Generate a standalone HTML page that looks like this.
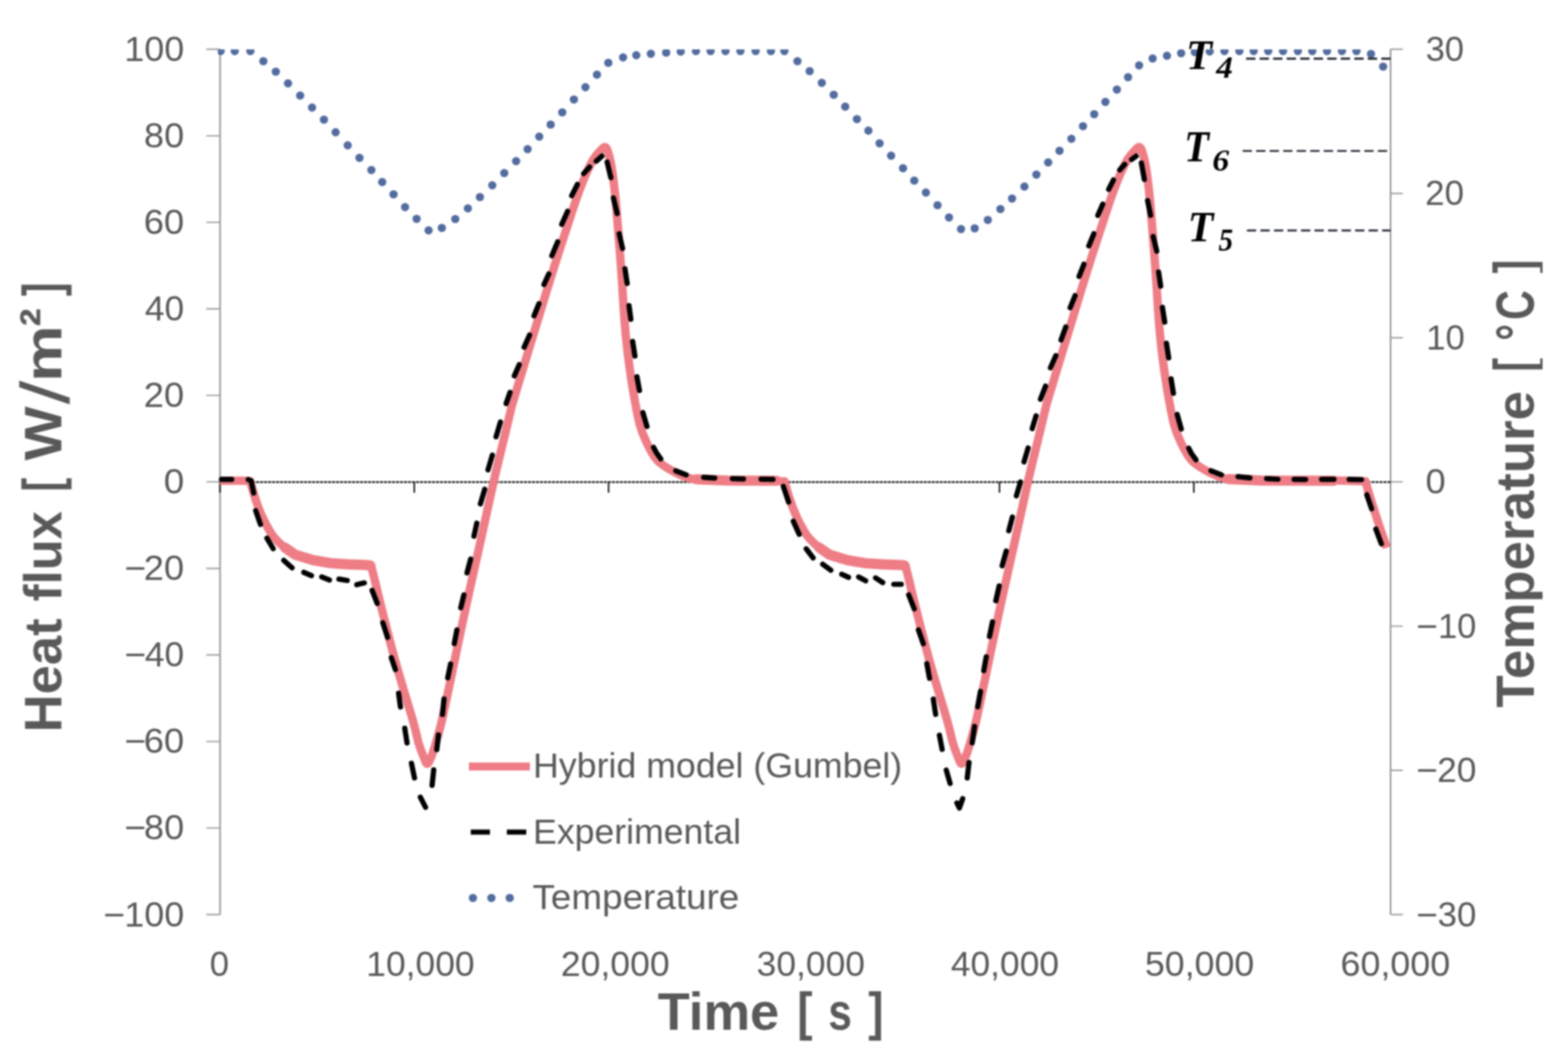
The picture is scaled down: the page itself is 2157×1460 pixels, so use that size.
<!DOCTYPE html>
<html lang="en"><head><meta charset="utf-8"><title>Heat flux and temperature versus time</title>
<style>
html,body{margin:0;padding:0;background:#fff;}
body{width:2157px;height:1460px;overflow:hidden;}
svg{display:block;}
text{font-family:"Liberation Sans",sans-serif;fill:#595959;white-space:pre;}
.tk{font-weight:normal;}
.ttl{font-weight:bold;fill:#595959;}
.math{font-family:"Liberation Serif",serif;font-weight:bold;font-style:italic;fill:#000;}
</style></head><body>
<svg width="2157" height="1460" viewBox="0 0 2157 1460">
<defs>
<clipPath id="plot"><rect x="299.7" y="68.1" width="1613.2" height="1192.4"/></clipPath>
<clipPath id="cb"><rect x="0" y="0" width="2157" height="1431.5"/></clipPath>
<clipPath id="cr"><rect x="0" y="0" width="2121.6" height="1460"/></clipPath>
<filter id="soft" filterUnits="userSpaceOnUse" x="0" y="0" width="2157" height="1460" color-interpolation-filters="sRGB"><feGaussianBlur stdDeviation="1"/></filter>
</defs>
<rect width="2157" height="1460" fill="#fff"/>
<g filter="url(#soft)">
<g fill="none" stroke="#8c8c8c" stroke-width="2.0">
<path d="M302.7 67.8V1258.5"/>
<path d="M1912.9 67.8V1258.5"/>
<path d="M283.7 67.8H302.7M283.7 186.9H302.7M283.7 305.9H302.7M283.7 425H302.7M283.7 544.1H302.7M283.7 663.1H302.7M283.7 782.2H302.7M283.7 901.3H302.7M283.7 1020.4H302.7M283.7 1139.4H302.7M283.7 1258.5H302.7M1912.9 67.8H1929.9M1912.9 266.2H1929.9M1912.9 464.7H1929.9M1912.9 663.1H1929.9M1912.9 861.6H1929.9M1912.9 1060H1929.9M1912.9 1258.5H1929.9" stroke="#9c9c9c" stroke-width="1.9"/>
</g>
<g fill="none" stroke="#0a0a0a">
<path d="M302.7 663.4H1912.9" stroke-width="2.1" stroke-dasharray="4.2 1.3"/>
<path d="M302.6 663.4V677.9M569.9 663.4V677.9M837.2 663.4V677.9M1374.9 663.4V677.9M1642.3 663.4V677.9" stroke-width="2.0"/>
</g>
<g clip-path="url(#plot)" fill="none">
<path d="M302.6 661.5C308.5 661.5 331.1 661.4 338 661.5C344.9 661.6 343.2 662.2 344.3 662.4C344.9 664.6 346.7 671 348 675.5C349.3 680 350.8 684.9 352.3 689.3C353.8 693.7 355.4 697.9 357 702C358.6 706.1 360.2 709.8 362.2 714C364.2 718.2 366.6 722.9 369 727C371.4 731.1 373.1 734.6 376.4 738.6C379.7 742.6 383.8 746.9 388.7 751C393.6 755.1 399 760 406 763.3C413 766.6 422.4 768.8 430.6 770.7C438.8 772.7 447.1 774 455.3 775C463.5 776 471.8 776.2 480 776.6C488.2 777 499.5 777.1 504.6 777.5C509.7 777.9 509.6 778.6 510.6 778.8C511.2 781.3 512 784 514.5 794C517 804 520.3 818.8 525.3 838.6C530.3 858.4 537.5 887 544.6 912.6C551.7 938.2 562.9 973.8 568.1 992C573.3 1010.2 573.3 1013.8 575.7 1022C578.1 1030.2 580.5 1036.2 582.5 1041C584.5 1045.8 585.9 1051 587.7 1051C589.5 1051 591.5 1045.8 593.5 1041C595.5 1036.2 597.3 1030.2 599.7 1022C602.1 1013.8 604.6 1005.7 607.8 992C611 978.3 613.5 965.6 618.9 940C624.3 914.4 633 871.9 640.2 838.6C647.4 805.3 655.7 769.2 662.1 740C668.5 710.8 673.9 685.4 678.9 663.6C683.9 641.8 687.7 626.8 692 609C696.3 591.2 702.4 565.7 704.5 557C706.4 550.8 709.7 539.5 715.6 520C721.5 500.5 732.9 463.3 740 440C747.1 416.7 751.7 401.1 758.3 380C764.9 358.9 773.4 332.6 779.8 313.3C786.1 294 791 278.4 796.4 264C801.8 249.6 807.2 236.2 811.9 227C816.6 217.8 821.1 212.4 824.8 208.5C828.5 204.6 831.3 200.5 834 203.6C836.7 206.7 838.8 216.9 840.8 227C842.8 237.1 844.2 249.6 845.8 264C847.3 278.4 848.6 294.8 850.1 313.3C851.6 331.8 853.3 353.9 854.8 375C856.3 396.1 857.7 422.5 859 440C860.3 457.5 861.3 466.7 862.8 480C864.3 493.3 866.5 508.8 868.1 520C869.7 531.2 870.5 536.3 872.5 547C874.5 557.7 877.2 573.7 880 584C882.8 594.3 885.3 600.4 889.3 608.6C893.3 616.8 897.9 626.6 904.1 633.3C910.3 640 918.5 644.5 926.3 648.7C934.1 652.9 940.7 656.6 951 658.6C961.3 660.6 973.2 660.5 988 661C1002.8 661.5 1024.8 661.3 1040 661.5C1055.2 661.7 1072.8 662.2 1079.3 662.4C1079.9 664.6 1081.7 671 1083 675.5C1084.3 680 1085.8 684.9 1087.3 689.3C1088.8 693.7 1090.3 697.9 1092 702C1093.7 706.1 1095.2 709.8 1097.2 714C1099.2 718.2 1101.6 722.9 1104 727C1106.4 731.1 1108.1 734.6 1111.4 738.6C1114.7 742.6 1118.8 746.9 1123.7 751C1128.6 755.1 1134 760 1141 763.3C1148 766.6 1157.4 768.8 1165.6 770.7C1173.8 772.7 1182.1 774 1190.3 775C1198.5 776 1206.8 776.2 1215 776.6C1223.2 777 1234.5 777.1 1239.6 777.5C1244.7 777.9 1244.6 778.6 1245.6 778.8C1246.2 781.3 1247 784 1249.5 794C1252 804 1255.3 818.8 1260.3 838.6C1265.3 858.4 1272.5 887 1279.6 912.6C1286.7 938.2 1297.9 973.8 1303.1 992C1308.3 1010.2 1308.3 1013.8 1310.7 1022C1313.1 1030.2 1315.5 1036.2 1317.5 1041C1319.5 1045.8 1320.9 1051 1322.7 1051C1324.5 1051 1326.5 1045.8 1328.5 1041C1330.5 1036.2 1332.3 1030.2 1334.7 1022C1337.1 1013.8 1339.6 1005.7 1342.8 992C1346 978.3 1348.5 965.6 1353.9 940C1359.3 914.4 1368 871.9 1375.2 838.6C1382.4 805.3 1390.6 769.2 1397.1 740C1403.5 710.8 1408.9 685.4 1413.9 663.6C1418.9 641.8 1422.7 626.8 1427 609C1431.3 591.2 1437.4 565.7 1439.5 557C1441.3 550.8 1444.7 539.5 1450.6 520C1456.5 500.5 1467.9 463.3 1475 440C1482.1 416.7 1486.7 401.1 1493.3 380C1499.9 358.9 1508.4 332.6 1514.8 313.3C1521.2 294 1526.1 278.4 1531.4 264C1536.8 249.6 1542.2 236.2 1546.9 227C1551.6 217.8 1556.1 212.4 1559.8 208.5C1563.5 204.6 1566.3 200.5 1569 203.6C1571.7 206.7 1573.8 216.9 1575.8 227C1577.8 237.1 1579.2 249.6 1580.8 264C1582.3 278.4 1583.6 294.8 1585.1 313.3C1586.6 331.8 1588.3 353.9 1589.8 375C1591.3 396.1 1592.7 422.5 1594 440C1595.3 457.5 1596.3 466.7 1597.8 480C1599.3 493.3 1601.5 508.8 1603.1 520C1604.7 531.2 1605.5 536.3 1607.5 547C1609.5 557.7 1612.2 573.7 1615 584C1617.8 594.3 1620.3 600.4 1624.3 608.6C1628.3 616.8 1632.9 626.6 1639.1 633.3C1645.3 640 1653.5 644.5 1661.3 648.7C1669.1 652.9 1675.7 656.6 1686 658.6C1696.3 660.6 1708.5 660.5 1723 661C1737.5 661.5 1753.5 661.2 1773 661.3C1792.5 661.3 1822.4 661.1 1840 661.3C1857.6 661.4 1872 662.1 1878.4 662.2C1879.3 665.4 1881.4 673.2 1884 681.6C1886.6 690 1890.5 702.1 1893.8 712.4C1897.1 722.7 1901.8 736.4 1904.1 743.3C1906.4 750.2 1907 752 1907.6 753.8" stroke="#ee7d86" stroke-width="11.5" stroke-linejoin="round"/>
<path d="M392.0 753.5L406.0 763.3L430.6 770.7L455.3 775.0L480.0 776.6L504.6 777.5L509.5 778.3M1127.0 753.5L1141.0 763.3L1165.6 770.7L1190.3 775.0L1215.0 776.6L1239.6 777.5L1244.5 778.3" stroke="#ee7d86" stroke-width="14.2" stroke-linejoin="round" stroke-linecap="round"/><path d="M958 659.6L1000 661.3L1068 661.5M1690 659.2L1735 661.2L1835 661.4" stroke="#ee7d86" stroke-width="14" stroke-linecap="round"/>
<path d="M304.7 659.7L318.7 659.7M341.5 659.9L345.5 661.5L348.9 678.4M351.7 702.6L358.3 721.6M367.2 740.6L375.8 755M390.4 771.1L401.8 781.4M417.9 787.6L428.5 792.1M442.6 793.9L453.2 798.1M466.3 796.9L477.7 798.7M490.8 804.6L501.2 802.1M511.9 812.4L518.9 830.4M526.6 856.9L533.2 877.1M538.3 905L543.9 921.3M548.3 954L550.9 972.8M556.8 1002.1L559.9 1022.3M566 1050.3L570.2 1070.4M578.2 1096.9L585.4 1110.9M594.4 1080.7L596.6 1059.3M600.9 1031.4L603.1 1011.3M608.7 983.2L610.8 961.8M615.9 932.7L619.8 913.7M624.9 885.7L628.5 866.8M633.8 836.4L638.1 818.6M642.4 788.4L647.4 769.3M652 737.8L655.9 720M660.8 693.4L666.8 673.2M671.3 646.6L677.3 626.3M682.4 601L688.4 580.7M696.2 555.4L701.6 540M707.5 517.2L714.3 501.7M721 477.8L728.5 461M734.6 434.6L741.4 417.9M748.3 391.5L754.9 377.1M759.1 351.9L767.2 332.7M772.7 308.7L780.8 290.7M786.4 269.3L794.2 253.8M802.9 238.9L811 229.9M820.3 221.8L828 214.9M835.2 223L840.3 244.5M843.8 272.3L849 293.8M851.8 321.7L856.4 341.9M859.7 369.8L862.8 390M865.3 420.5L867.8 439.3M870.3 469.8L873.4 489.9M876.2 518.5L879.7 537.3M884.4 567.7L890 586.7M899.1 615.6L903 623L909 631.4M929.6 647.8L943.9 653.4M968.1 656.9L983.2 657.8M1007.5 658.7L1022.7 659.1M1047 659.3L1063.3 659.7M1077.6 669.3L1084.8 690.8M1091.3 717.3L1099.4 735.3M1109.1 755.2L1118.6 767.7M1131.7 776.4L1142.9 784.7M1157.9 790.2L1167.2 794.4M1181.2 794L1190.8 799.2M1204.5 795.3L1214.3 801.6M1229.6 804L1239.8 804M1250 818.5L1257.6 837.8M1263.4 866.7L1270.1 885.8M1275 913.3L1278.7 933.3M1283.9 962L1287.1 983M1292.3 1011.7L1296 1031.2M1301.7 1059.8L1307 1078M1316.3 1104.9L1319.8 1111.9L1324.3 1099M1330.6 1070.4L1333 1049.4M1337.4 1022.2L1340.6 999.7M1345 972.5L1348.8 951.5M1353.3 922.8L1356.7 903.8M1361.2 875.8L1365.3 855.7M1369.9 826.6L1374.5 806.3M1378.6 778.5L1384.2 758.2M1387.7 730.4L1392.7 711.4M1398.2 682.3L1403.8 663.3M1408.7 635.5L1414.3 616.5M1419.9 589.9L1425.3 572.1M1431.3 549.3L1438.3 531.3M1445 506.1L1452.4 489.4M1459.6 467.8L1466.1 450M1472.1 423.5L1478.9 406.8M1484.4 380.4L1491.1 363.5M1497.8 338.3L1504.7 321.6M1510.2 296.4L1517 280.9M1525.1 260.6L1531.7 247.6M1540.3 233.9L1547.2 226.2M1556.7 219.4L1562.9 214.8M1570.1 224.4L1574.2 246.9M1578.7 276.1L1582.8 296.2M1586.3 325.4L1591.3 345.6M1593.8 374.3L1596.7 393.7M1599.1 423L1602.2 443.1M1604.6 472.3L1607.7 492.4M1611 521.3L1614.2 541.2M1619.4 570.2L1625 590.4M1635.3 616.8L1639 624L1645.2 632.6M1665.9 647.8L1680.2 653.4M1703.1 655.8L1719.4 657.7M1742.5 658.7L1757.9 659.5M1780.3 659.6L1796 659.8M1818 659.6L1835 659.6M1856 659.6L1873 660M1880.2 680.8L1886.8 700M1892.6 728L1900.2 748.3" stroke="#000" stroke-width="7.2" stroke-linejoin="round" stroke-linecap="round"/>
</g>
<g clip-path="url(#plot)" fill="#536c9f">
<circle cx="303.5" cy="70.3" r="5.7"/>
<circle cx="322.9" cy="70.3" r="5.7"/>
<circle cx="344.4" cy="70.3" r="5.7"/>
<circle cx="362.3" cy="84.2" r="5.7"/>
<circle cx="379.4" cy="98.6" r="5.7"/>
<circle cx="396.2" cy="114.8" r="5.7"/>
<circle cx="412.9" cy="131.5" r="5.7"/>
<circle cx="429.3" cy="148" r="5.7"/>
<circle cx="445.6" cy="164.6" r="5.7"/>
<circle cx="461.7" cy="182" r="5.7"/>
<circle cx="478.3" cy="200" r="5.7"/>
<circle cx="494.5" cy="217.2" r="5.7"/>
<circle cx="510.9" cy="234" r="5.7"/>
<circle cx="525.8" cy="250.5" r="5.7"/>
<circle cx="541.4" cy="267.4" r="5.7"/>
<circle cx="557.2" cy="285" r="5.7"/>
<circle cx="573.1" cy="301.1" r="5.7"/>
<circle cx="589.6" cy="317" r="5.7"/>
<circle cx="607.8" cy="313.6" r="5.7"/>
<circle cx="626.3" cy="301.4" r="5.7"/>
<circle cx="643.6" cy="286.8" r="5.7"/>
<circle cx="660.2" cy="271.3" r="5.7"/>
<circle cx="677.2" cy="255" r="5.7"/>
<circle cx="693.7" cy="238.1" r="5.7"/>
<circle cx="710" cy="221.8" r="5.7"/>
<circle cx="725.8" cy="205.3" r="5.7"/>
<circle cx="741.8" cy="188" r="5.7"/>
<circle cx="757.5" cy="171.4" r="5.7"/>
<circle cx="773.5" cy="154.6" r="5.7"/>
<circle cx="789.5" cy="136.9" r="5.7"/>
<circle cx="805.3" cy="120" r="5.7"/>
<circle cx="821.2" cy="102.7" r="5.7"/>
<circle cx="836.8" cy="86.4" r="5.7"/>
<circle cx="857.1" cy="79" r="5.7"/>
<circle cx="875.3" cy="76" r="5.7"/>
<circle cx="895.3" cy="74" r="5.7"/>
<circle cx="916.4" cy="72.4" r="5.7"/>
<circle cx="936.4" cy="71" r="5.7"/>
<circle cx="957.4" cy="70.3" r="5.7"/>
<circle cx="977.5" cy="70.3" r="5.7"/>
<circle cx="998" cy="70.3" r="5.7"/>
<circle cx="1018.5" cy="70.3" r="5.7"/>
<circle cx="1039.5" cy="70.3" r="5.7"/>
<circle cx="1060.5" cy="70.3" r="5.7"/>
<circle cx="1079" cy="70.3" r="5.7"/>
<circle cx="1097" cy="84.2" r="5.7"/>
<circle cx="1113.8" cy="97.9" r="5.7"/>
<circle cx="1130.5" cy="114" r="5.7"/>
<circle cx="1146.9" cy="130.4" r="5.7"/>
<circle cx="1162.7" cy="146.8" r="5.7"/>
<circle cx="1178.8" cy="163.9" r="5.7"/>
<circle cx="1194.6" cy="179.7" r="5.7"/>
<circle cx="1210" cy="197.2" r="5.7"/>
<circle cx="1225.8" cy="214.2" r="5.7"/>
<circle cx="1242.2" cy="231.5" r="5.7"/>
<circle cx="1257.7" cy="248.5" r="5.7"/>
<circle cx="1273.7" cy="265" r="5.7"/>
<circle cx="1289.7" cy="282.4" r="5.7"/>
<circle cx="1305.5" cy="299.3" r="5.7"/>
<circle cx="1322" cy="315.3" r="5.7"/>
<circle cx="1340.8" cy="314.3" r="5.7"/>
<circle cx="1358.9" cy="302.6" r="5.7"/>
<circle cx="1376.2" cy="287.6" r="5.7"/>
<circle cx="1392.2" cy="273.2" r="5.7"/>
<circle cx="1409.2" cy="256.8" r="5.7"/>
<circle cx="1425.7" cy="240.3" r="5.7"/>
<circle cx="1441.9" cy="223.5" r="5.7"/>
<circle cx="1457.5" cy="207.5" r="5.7"/>
<circle cx="1473.8" cy="191" r="5.7"/>
<circle cx="1489.8" cy="173.6" r="5.7"/>
<circle cx="1505.2" cy="157.1" r="5.7"/>
<circle cx="1520.6" cy="140.3" r="5.7"/>
<circle cx="1536.4" cy="123.2" r="5.7"/>
<circle cx="1551.8" cy="106.2" r="5.7"/>
<circle cx="1567" cy="90" r="5.7"/>
<circle cx="1585.6" cy="80.5" r="5.7"/>
<circle cx="1605.3" cy="76.8" r="5.7"/>
<circle cx="1624.8" cy="73.2" r="5.7"/>
<circle cx="1643.6" cy="71.7" r="5.7"/>
<circle cx="1664.1" cy="70.8" r="5.7"/>
<circle cx="1684.4" cy="70.3" r="5.7"/>
<circle cx="1704.9" cy="70.3" r="5.7"/>
<circle cx="1724.6" cy="70.3" r="5.7"/>
<circle cx="1744.6" cy="70.3" r="5.7"/>
<circle cx="1765" cy="70.3" r="5.7"/>
<circle cx="1785.4" cy="70.3" r="5.7"/>
<circle cx="1805.2" cy="70.3" r="5.7"/>
<circle cx="1825.5" cy="70.3" r="5.7"/>
<circle cx="1846" cy="70.3" r="5.7"/>
<circle cx="1866" cy="70.3" r="5.7"/>
<circle cx="1886" cy="74.2" r="5.7"/>
<circle cx="1902.7" cy="91.6" r="5.7"/>
</g>
<text class="math" xml:space="preserve" font-size="57.5" y="94.6"><tspan x="1631.6" y="94.6" textLength="35.8" lengthAdjust="spacingAndGlyphs">T</tspan><tspan x="1673" font-size="42.5" y="107.2" textLength="23" lengthAdjust="spacingAndGlyphs">4</tspan></text>
<text class="math" xml:space="preserve" font-size="61" y="222.4"><tspan x="1628.9" y="222.4" textLength="34.1" lengthAdjust="spacingAndGlyphs">T</tspan><tspan x="1667.7" font-size="43" y="234.6" textLength="23.2" lengthAdjust="spacingAndGlyphs">6</tspan></text>
<text class="math" xml:space="preserve" font-size="60" y="331.6"><tspan x="1633.9" y="331.6" textLength="35.1" lengthAdjust="spacingAndGlyphs">T</tspan><tspan x="1676.2" font-size="44.5" y="344.6" textLength="20.1" lengthAdjust="spacingAndGlyphs">5</tspan></text>
<g fill="none" stroke="#242a33" stroke-dasharray="12.8 5.8">
<path d="M1714.2 80.7H1913" stroke-width="3.0"/>
<path d="M1709.4 207.7H1909" stroke-width="2.6"/>
<path d="M1715.3 317.1H1913" stroke-width="2.6"/>
</g>
<path d="M645 1054.8H729" stroke="#ee7d86" stroke-width="11" fill="none"/>
<path d="M647.6 1145H674M697.3 1145H723.9" stroke="#000" stroke-width="7.0" fill="none"/>
<g fill="#536c9f">
<circle cx="650.6" cy="1235.6" r="5.7"/>
<circle cx="676" cy="1235.6" r="5.7"/>
<circle cx="701.2" cy="1235.6" r="5.7"/>
</g>
<text class="tk" xml:space="preserve" font-size="48" y="1070.4"><tspan x="733.3" textLength="507.8" lengthAdjust="spacingAndGlyphs">Hybrid model (Gumbel)</tspan></text>
<text class="tk" xml:space="preserve" font-size="48" y="1160.6"><tspan x="733.3" textLength="286" lengthAdjust="spacingAndGlyphs">Experimental</tspan></text>
<text class="tk" xml:space="preserve" font-size="48" y="1251.4"><tspan x="732.5" textLength="284.5" lengthAdjust="spacingAndGlyphs">Temperature</tspan></text>
<text class="tk" xml:space="preserve" font-size="48" y="83.8"><tspan x="171.1" textLength="82.2" lengthAdjust="spacingAndGlyphs">100</tspan></text>
<text class="tk" xml:space="preserve" font-size="48" y="202.9"><tspan x="198.1" textLength="55.2" lengthAdjust="spacingAndGlyphs">80</tspan></text>
<text class="tk" xml:space="preserve" font-size="48" y="321.9"><tspan x="197.8" textLength="55.6" lengthAdjust="spacingAndGlyphs">60</tspan></text>
<text class="tk" xml:space="preserve" font-size="48" y="441"><tspan x="199.2" textLength="54.1" lengthAdjust="spacingAndGlyphs">40</tspan></text>
<text class="tk" xml:space="preserve" font-size="48" y="560.1"><tspan x="197.8" textLength="55.6" lengthAdjust="spacingAndGlyphs">20</tspan></text>
<text class="tk" xml:space="preserve" font-size="48" y="679.1"><tspan x="225.2" textLength="28.2" lengthAdjust="spacingAndGlyphs">0</tspan></text>
<text class="tk" xml:space="preserve" font-size="48" y="798.2"><tspan x="170.9" y="798.2" textLength="29.8" lengthAdjust="spacingAndGlyphs">−</tspan><tspan x="197.8" y="798.2" textLength="55.6" lengthAdjust="spacingAndGlyphs">20</tspan></text>
<text class="tk" xml:space="preserve" font-size="48" y="917.3"><tspan x="170.9" y="917.3" textLength="29.8" lengthAdjust="spacingAndGlyphs">−</tspan><tspan x="199.2" y="917.3" textLength="54.1" lengthAdjust="spacingAndGlyphs">40</tspan></text>
<text class="tk" xml:space="preserve" font-size="48" y="1036.4"><tspan x="170.9" y="1036.4" textLength="29.8" lengthAdjust="spacingAndGlyphs">−</tspan><tspan x="197.8" y="1036.4" textLength="55.6" lengthAdjust="spacingAndGlyphs">60</tspan></text>
<text class="tk" xml:space="preserve" font-size="48" y="1155.4"><tspan x="170.9" y="1155.4" textLength="29.8" lengthAdjust="spacingAndGlyphs">−</tspan><tspan x="198.1" y="1155.4" textLength="55.2" lengthAdjust="spacingAndGlyphs">80</tspan></text>
<text class="tk" xml:space="preserve" font-size="48" y="1274.5"><tspan x="141.9" y="1274.5" textLength="29.8" lengthAdjust="spacingAndGlyphs">−</tspan><tspan x="171.1" y="1274.5" textLength="82.2" lengthAdjust="spacingAndGlyphs">100</tspan></text>
<text class="tk" xml:space="preserve" font-size="48" y="83.8"><tspan x="1961.2" textLength="52.7" lengthAdjust="spacingAndGlyphs">30</tspan></text>
<text class="tk" xml:space="preserve" font-size="48" y="282.2"><tspan x="1960.6" textLength="53.3" lengthAdjust="spacingAndGlyphs">20</tspan></text>
<text class="tk" xml:space="preserve" font-size="48" y="480.7"><tspan x="1962" textLength="53.1" lengthAdjust="spacingAndGlyphs">10</tspan></text>
<text class="tk" xml:space="preserve" font-size="48" y="679.1"><tspan x="1961.1" textLength="27.7" lengthAdjust="spacingAndGlyphs">0</tspan></text>
<text class="tk" xml:space="preserve" font-size="48" y="877.6"><tspan x="1948" y="877.6" textLength="29.8" lengthAdjust="spacingAndGlyphs">−</tspan><tspan x="1978.2" y="877.6" textLength="52.7" lengthAdjust="spacingAndGlyphs">10</tspan></text>
<text class="tk" xml:space="preserve" font-size="48" y="1076"><tspan x="1948" y="1076" textLength="29.8" lengthAdjust="spacingAndGlyphs">−</tspan><tspan x="1976.9" y="1076" textLength="54" lengthAdjust="spacingAndGlyphs">20</tspan></text>
<text class="tk" xml:space="preserve" font-size="48" y="1274.5"><tspan x="1948" y="1274.5" textLength="29.8" lengthAdjust="spacingAndGlyphs">−</tspan><tspan x="1977.5" y="1274.5" textLength="53.4" lengthAdjust="spacingAndGlyphs">30</tspan></text>
<text class="tk" xml:space="preserve" font-size="48" y="1343"><tspan x="288.4" textLength="26.6" lengthAdjust="spacingAndGlyphs">0</tspan></text>
<text class="tk" xml:space="preserve" font-size="48" y="1343"><tspan x="503.8" textLength="149.1" lengthAdjust="spacingAndGlyphs">10,000</tspan></text>
<text class="tk" xml:space="preserve" font-size="48" y="1343"><tspan x="771.5" textLength="149.7" lengthAdjust="spacingAndGlyphs">20,000</tspan></text>
<text class="tk" xml:space="preserve" font-size="48" y="1343"><tspan x="1040.8" textLength="149.1" lengthAdjust="spacingAndGlyphs">30,000</tspan></text>
<text class="tk" xml:space="preserve" font-size="48" y="1343"><tspan x="1307.9" textLength="149" lengthAdjust="spacingAndGlyphs">40,000</tspan></text>
<text class="tk" xml:space="preserve" font-size="48" y="1343"><tspan x="1575" textLength="150.4" lengthAdjust="spacingAndGlyphs">50,000</tspan></text>
<text class="tk" xml:space="preserve" font-size="48" y="1343"><tspan x="1844" textLength="150.9" lengthAdjust="spacingAndGlyphs">60,000</tspan></text>
<text class="ttl" xml:space="preserve" font-size="71.5" transform="translate(84.4 0) rotate(-90)"><tspan x="-1007.7" y="0" textLength="176.8" lengthAdjust="spacingAndGlyphs">Heat </tspan><tspan x="-827.5" y="0" textLength="143.5" lengthAdjust="spacingAndGlyphs">flux </tspan><tspan x="-676.4" font-size="75" y="-1.5" textLength="34.9" lengthAdjust="spacingAndGlyphs">[ </tspan><tspan x="-633.8" y="0" textLength="74.5" lengthAdjust="spacingAndGlyphs">W</tspan><tspan x="-556.6" font-weight="normal" font-size="94" y="11" textLength="32.8" lengthAdjust="spacingAndGlyphs">/</tspan><tspan x="-525.5" y="0" textLength="77.8" lengthAdjust="spacingAndGlyphs">m</tspan><tspan x="-449.2" font-size="78" y="-2.8" textLength="46" lengthAdjust="spacingAndGlyphs">² </tspan><tspan x="-407.4" font-size="75" y="-1.5" textLength="18.9" lengthAdjust="spacingAndGlyphs">]</tspan></text>
<g clip-path="url(#cr)"><text class="ttl" xml:space="preserve" font-size="75" transform="translate(2110 0) rotate(-90)"><tspan x="-973.7" y="0" textLength="455.9" lengthAdjust="spacingAndGlyphs">Temperature </tspan><tspan x="-511.4" font-size="77" y="0" textLength="34.9" lengthAdjust="spacingAndGlyphs">[ </tspan><tspan x="-469.1" y="0" textLength="23.4" lengthAdjust="spacingAndGlyphs">°</tspan><tspan x="-440.3" y="0" textLength="56.6" lengthAdjust="spacingAndGlyphs">C </tspan><tspan x="-376.2" font-size="77" y="0" textLength="19" lengthAdjust="spacingAndGlyphs">]</tspan></text></g>
<g clip-path="url(#cb)"><text class="ttl" xml:space="preserve" font-size="72.7" y="1417.1"><tspan x="904.8" y="1417.1" textLength="187.3" lengthAdjust="spacingAndGlyphs">Time </tspan><tspan x="1096.8" y="1417.1" textLength="38.5" lengthAdjust="spacingAndGlyphs">[ </tspan><tspan x="1139.4" y="1417.1" textLength="48.5" lengthAdjust="spacingAndGlyphs">s </tspan><tspan x="1194.6" y="1417.1" textLength="21" lengthAdjust="spacingAndGlyphs">]</tspan></text></g>
</g>
</svg>
</body></html>
